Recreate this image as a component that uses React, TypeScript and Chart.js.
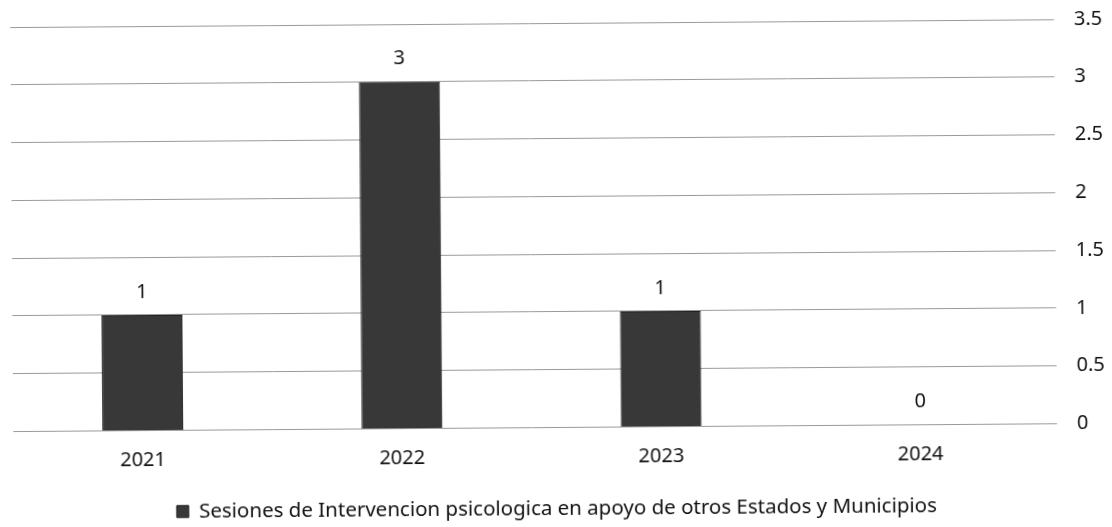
import React, { useEffect, useRef } from "react";
import { Chart, registerables } from "chart.js";

Chart.register(...registerables);

const categories = ["2021", "2022", "2023", "2024"];
const seriesLabel = "Sesiones de Intervencion psicologica en apoyo de otros Estados y Municipios";
const seriesValues = [1, 3, 1, 0];
const yMax = 3.5;
const yStep = 0.5;

const FONT = "'Noto Sans', sans-serif";

const valueLabels = {
  id: "valueLabels",
  afterDatasetsDraw(chart: any) {
    const ctx = chart.ctx;
    const meta = chart.getDatasetMeta(0);
    ctx.save();
    ctx.fillStyle = "#111";
    ctx.font = `20px ${FONT}`;
    ctx.textAlign = "center";
    ctx.textBaseline = "middle";
    meta.data.forEach((bar: any, i: number) => {
      ctx.fillText(String(seriesValues[i]), bar.x, bar.y - 23);
    });
    ctx.restore();
  },
};

const legendShift = {
  id: "legendShift",
  afterLayout(chart: any) {
    const lg = chart.legend;
    if (lg) {
      lg.left -= 13;
      lg.right -= 13;
    }
  },
};

export default function App() {
  const ref = useRef<HTMLCanvasElement>(null);
  useEffect(() => {
    document.body.style.margin = "0";
    const chart = new Chart(ref.current!, {
      type: "bar",
      data: {
        labels: categories,
        datasets: [
          {
            label: seriesLabel,
            data: seriesValues,
            backgroundColor: "#383838",
            borderColor: "#222",
            borderWidth: 1,
            barPercentage: 0.625,
            categoryPercentage: 0.5,
          },
        ],
      },
      options: {
        animation: false,
        responsive: false,
        layout: { padding: { left: 12, right: -12, top: 23, bottom: -2 } },
        plugins: {
          legend: {
            position: "bottom",
            labels: {
              color: "#111",
              font: { family: FONT, size: 20.5 },
              boxWidth: 12,
              boxHeight: 12,
              padding: 2,
            },
          },
          tooltip: { enabled: false },
        },
        scales: {
          x: {
            grid: { display: false },
            border: { display: false },
            ticks: { color: "#111", font: { family: FONT, size: 20 }, padding: 10 },
            afterFit: (s: any) => {
              s.height = 69;
            },
          },
          y: {
            position: "right",
            min: 0,
            max: yMax,
            ticks: {
              stepSize: yStep,
              color: "#111",
              font: { family: FONT, size: 20 },
              padding: 20,
              callback: (v: any) => String(v),
            },
            grid: { color: "#9a9a9a", lineWidth: 1, drawTicks: true, tickLength: 7, tickColor: "#9a9a9a" },
            border: { display: false },
            afterFit: (s: any) => {
              s.paddingTop = 0;
              s.paddingBottom = 0;
            },
          },
        },
      },
      plugins: [valueLabels, legendShift],
    });
    return () => chart.destroy();
  }, []);
  return (
    <div
      style={{
        position: "absolute",
        left: 0,
        top: 0,
        width: 1112,
        height: 527,
        background: "#fff",
        transform: "rotate(-0.43deg)",
        transformOrigin: "556px 263px",
      }}
    >
      <canvas ref={ref} width={1112} height={527} />
    </div>
  );
}
